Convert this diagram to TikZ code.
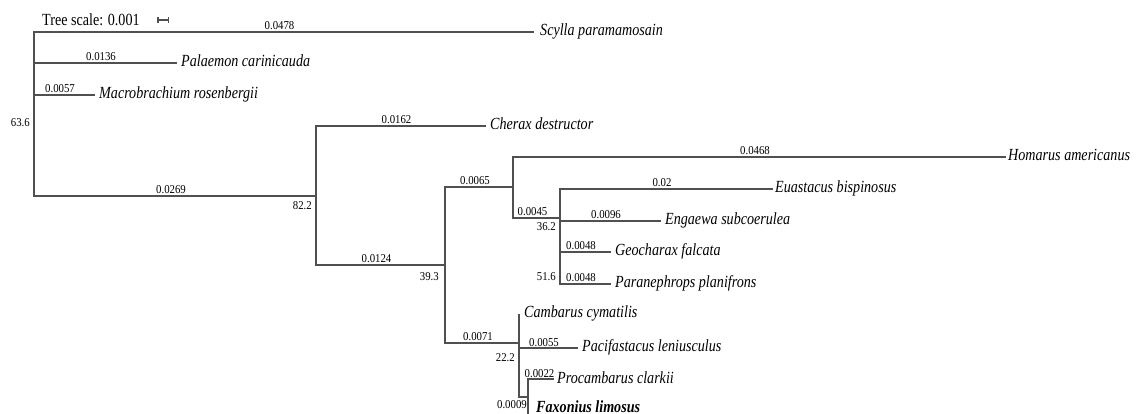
\documentclass[tikz,border=0pt]{standalone}
\usepackage{fontspec}
\setmainfont{Liberation Serif}
\usepackage{graphicx}
\usetikzlibrary{calc}
\definecolor{linec}{RGB}{80,80,80}
\newcommand{\leafname}[1]{\scalebox{0.83}[1]{\fontsize{17}{17}\selectfont\itshape #1}}
\newcommand{\leafbold}[1]{\scalebox{0.83}[1]{\fontsize{17}{17}\selectfont\itshape\bfseries #1}}
\newcommand{\brlen}[1]{\scalebox{0.9}[1]{\fontsize{12}{12}\selectfont #1}}
\newcommand{\titletext}[1]{\scalebox{0.83}[1]{\fontsize{17}{17}\selectfont #1}}
\begin{document}
\begin{tikzpicture}[x=1pt,y=-1pt,
  br/.style={draw=linec, line width=1.5pt, line cap=rect},
  leaf/.style={anchor=base west, inner sep=0pt, text=black},
  blen/.style={anchor=base, inner sep=0pt, pos=0.5, yshift=2pt, xshift=-4pt, text=black},
  supp/.style={anchor=base east, inner sep=0pt, text=black}]
\useasboundingbox[fill=white] (0,0) rectangle (1136,414);

% tips
\coordinate (tS)  at (533,32);
\coordinate (tP)  at (176,63);
\coordinate (tM)  at (94,95);
\coordinate (tC)  at (485,126);
\coordinate (tH)  at (1005,157);
\coordinate (tE)  at (772,189);
\coordinate (tEn) at (660,221);
\coordinate (tG)  at (610,252);
\coordinate (tPa) at (610,284);
\coordinate (tCa) at (519,315);
\coordinate (tPf) at (577,348);
\coordinate (tPr) at (553,379);
\coordinate (tF)  at (528,414);
% internal nodes
\coordinate (r)   at (34,114);
\coordinate (n82) at (316,196);
\coordinate (n39) at (445,265);
\coordinate (n65) at (513,187);
\coordinate (n36) at (560,218);
\coordinate (n51) at (560,268);
\coordinate (n22) at (519,343);
\coordinate (n09) at (528,397);

% tree scale
\node[anchor=base west, inner sep=0pt] (ts) at (42,25.5) {\titletext{Tree scale: 0.001}};
\coordinate (sb1) at (158,20);
\coordinate (sb2) at (168.4,20);
\draw[linec, line width=1.2pt] (sb1) -- (sb2);
\draw[linec, line width=1.2pt] ($(sb1)+(0,-3)$) -- ($(sb1)+(0,3)$);
\draw[linec, line width=1.2pt] ($(sb2)+(0,-3)$) -- ($(sb2)+(0,3)$);

% root
\draw[br] (r |- tS) -- (r |- n82);
\draw[br] (r |- tS) -- node[blen]{\brlen{0.0478}} (tS);
\draw[br] (r |- tP) -- node[blen]{\brlen{0.0136}} (tP);
\draw[br] (r |- tM) -- node[blen]{\brlen{0.0057}} (tM);
\draw[br] (r |- n82) -- node[blen]{\brlen{0.0269}} (n82);
\node[supp] (s636) at ($(r)+(-4,13)$) {\brlen{63.6}};

% node 82.2
\draw[br] (n82 |- tC) -- (n82 |- n39);
\draw[br] (n82 |- tC) -- node[blen]{\brlen{0.0162}} (tC);
\draw[br] (n82 |- n39) -- node[blen]{\brlen{0.0124}} (n39);
\node[supp] (s822) at ($(n82)+(-4,14)$) {\brlen{82.2}};

% node 39.3
\draw[br] (n39 |- n65) -- (n39 |- n22);
\draw[br] (n39 |- n65) -- node[blen]{\brlen{0.0065}} (n65);
\draw[br] (n39 |- n22) -- node[blen]{\brlen{0.0071}} (n22);
\node[supp] (s393) at ($(n39)+(-6,16)$) {\brlen{39.3}};

% node above 36.2
\draw[br] (n65 |- tH) -- (n65 |- n36);
\draw[br] (n65 |- tH) -- node[blen]{\brlen{0.0468}} (tH);
\draw[br] (n65 |- n36) -- node[blen]{\brlen{0.0045}} (n36);

% node 36.2
\draw[br] (n36 |- tE) -- (n36 |- tPa);
\draw[br] (n36 |- tE) -- node[blen]{\brlen{0.02}} (tE);
\draw[br] (n36 |- tEn) -- node[blen]{\brlen{0.0096}} (tEn);
\node[supp] (s362) at ($(n36)+(-4,13)$) {\brlen{36.2}};

% node 51.6
\draw[br] (n51 |- tG) -- (n51 |- tPa);
\draw[br] (n51 |- tG) -- node[blen]{\brlen{0.0048}} (tG);
\draw[br] (n51 |- tPa) -- node[blen]{\brlen{0.0048}} (tPa);
\node[supp] (s516) at ($(n51)+(-4,13)$) {\brlen{51.6}};

% node 22.2
\draw[br] (n22 |- tCa) -- (n22 |- n09);
\draw[br] (n22 |- tPf) -- node[blen]{\brlen{0.0055}} (tPf);
\draw[br] (n22 |- n09) -- (n09);
\node[supp] (s222) at ($(n22)+(-4,18)$) {\brlen{22.2}};
\node[supp] (s0009) at ($(n09)+(-1,11)$) {\brlen{0.0009}};

% node Procambarus/Faxonius
\draw[br] (n09 |- tPr) -- (n09 |- tF);
\draw[br] (n09 |- tPr) -- node[blen, xshift=3pt]{\brlen{0.0022}} (tPr);

% leaf labels
\node[leaf] (lS)  at ($(tS)+(7,4)$)  {\leafname{Scylla paramamosain}};
\node[leaf] (lP)  at ($(tP)+(5,4)$)  {\leafname{Palaemon carinicauda}};
\node[leaf] (lM)  at ($(tM)+(5,4)$)  {\leafname{Macrobrachium rosenbergii}};
\node[leaf] (lC)  at ($(tC)+(5,4)$)  {\leafname{Cherax destructor}};
\node[leaf] (lH)  at ($(tH)+(3,4)$)  {\leafname{Homarus americanus}};
\node[leaf] (lE)  at ($(tE)+(3,4)$)  {\leafname{Euastacus bispinosus}};
\node[leaf] (lEn) at ($(tEn)+(5,4)$) {\leafname{Engaewa subcoerulea}};
\node[leaf] (lG)  at ($(tG)+(5,4)$)  {\leafname{Geocharax falcata}};
\node[leaf] (lPa) at ($(tPa)+(5,4)$) {\leafname{Paranephrops planifrons}};
\node[leaf] (lCa) at ($(tCa)+(5,2)$) {\leafname{Cambarus cymatilis}};
\node[leaf] (lPf) at ($(tPf)+(5,4)$) {\leafname{Pacifastacus leniusculus}};
\node[leaf] (lPr) at ($(tPr)+(4,4)$) {\leafname{Procambarus clarkii}};
\node[leaf] (lF)  at ($(tF)+(8,-2)$) {\leafbold{Faxonius limosus}};
\end{tikzpicture}
\end{document}
